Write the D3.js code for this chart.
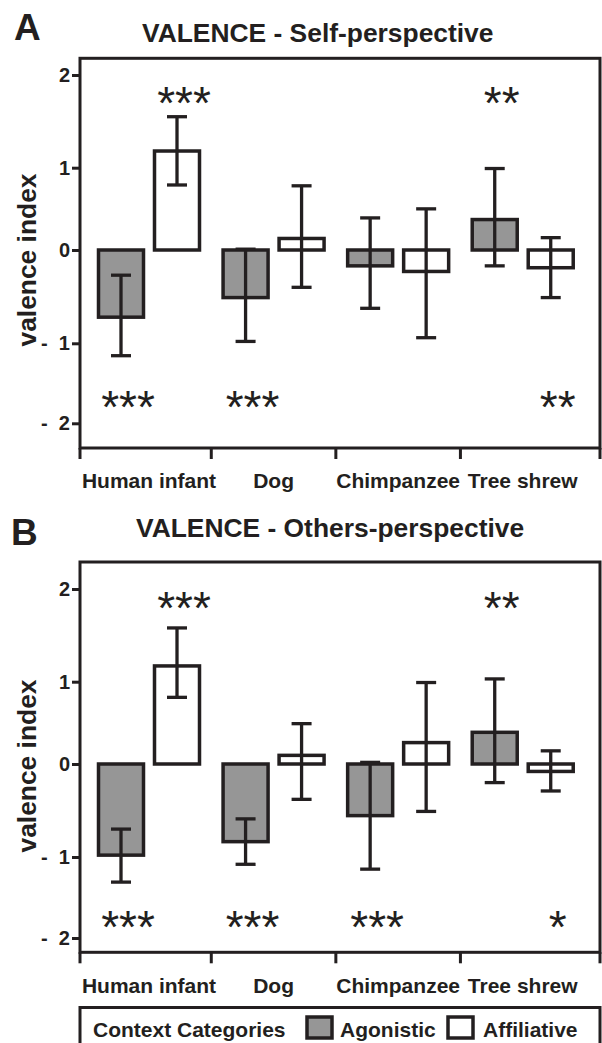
<!DOCTYPE html>
<html lang="en">
<head>
    <meta charset="UTF-8">
    <title>Valence index by species</title>
    <style>
        body { margin: 0; background: #fff; }
        text { font-family: "Liberation Sans", Arial, sans-serif; fill: #231f20; }
        .bold { font-weight: bold; }
    </style>
</head>
<body>
    <svg id="chart" width="602" height="1043"></svg>
    <script src="https://d3js.org/d3.v7.min.js"></script>
    <script>
        // categories and series
        var categories = ["Human infant", "Dog", "Chimpanzee", "Tree shrew"];
        var series = ["Agonistic", "Affiliative"];
        var yTicks = [-2, -1, 0, 1, 2];

        // A - self perspective (means and error bar ends)
        var selfAgonistic     = [-0.72, -0.51, -0.17, 0.37];
        var selfAgonisticHi   = [-0.27, 0.01, 0.39, 0.99];
        var selfAgonisticLo   = [-1.155, -0.98, -0.625, -0.17];
        var selfAffiliative   = [1.18, 0.14, -0.23, -0.19];
        var selfAffiliativeHi = [1.55, 0.78, 0.50, 0.15];
        var selfAffiliativeLo = [0.79, -0.40, -0.94, -0.51];

        // B - others perspective
        var othersAgonistic     = [-0.98, -0.835, -0.555, 0.385];
        var othersAgonisticHi   = [-0.70, -0.59, 0.02, 1.03];
        var othersAgonisticLo   = [-1.31, -1.09, -1.15, -0.20];
        var othersAffiliative   = [1.17, 0.105, 0.26, -0.08];
        var othersAffiliativeHi = [1.58, 0.49, 0.99, 0.16];
        var othersAffiliativeLo = [0.81, -0.38, -0.51, -0.29];

        // significance markers: [category, series, label, row]
        var selfStars = [
            ["Human infant", "Agonistic", "***", "bottom"],
            ["Human infant", "Affiliative", "***", "top"],
            ["Dog", "Agonistic", "***", "bottom"],
            ["Tree shrew", "Agonistic", "**", "top"],
            ["Tree shrew", "Affiliative", "**", "bottom"]
        ];
        var othersStars = [
            ["Human infant", "Agonistic", "***", "bottom"],
            ["Human infant", "Affiliative", "***", "top"],
            ["Dog", "Agonistic", "***", "bottom"],
            ["Chimpanzee", "Agonistic", "***", "bottom"],
            ["Tree shrew", "Agonistic", "**", "top"],
            ["Tree shrew", "Affiliative", "*", "bottom"]
        ];

        var ink = "#231f20", grey = "#969696";
        var svg = d3.select("#chart");

        var frameLeft = 80, frameRight = 600;

        var x0 = d3.scaleBand().domain(categories).range([86.7, 585]);
        var x1 = d3.scaleBand().domain(series).range([6.3, 118.3]);
        var barW = 45;

        function rows(mean, hi, lo, s) {
            return categories.map(function(c, i) {
                return { cat: c, s: s, v: mean[i], hi: hi[i], lo: lo[i] };
            });
        }

        var panels = [
            {
                letter: "A", title: "VALENCE - Self-perspective", titleX: 142, titleY: 42, letterX: 14, letterY: 40,
                top: 58.3, axisY: 448, yRange: [423.3, 343.3, 250, 167.7, 75], labelY: 488,
                yLabelY: 260, starTop: 1.82, starBottom: -1.66,
                data: rows(selfAgonistic, selfAgonisticHi, selfAgonisticLo, "Agonistic")
                    .concat(rows(selfAffiliative, selfAffiliativeHi, selfAffiliativeLo, "Affiliative")),
                stars: selfStars
            },
            {
                letter: "B", title: "VALENCE - Others-perspective", titleX: 136, titleY: 537, letterX: 11, letterY: 545,
                top: 562, axisY: 952.3, yRange: [938, 857, 764, 681.7, 589], labelY: 993,
                yLabelY: 766, starTop: 1.91, starBottom: -1.73,
                data: rows(othersAgonistic, othersAgonisticHi, othersAgonisticLo, "Agonistic")
                    .concat(rows(othersAffiliative, othersAffiliativeHi, othersAffiliativeLo, "Affiliative")),
                stars: othersStars
            }
        ];

        panels.forEach(function(p) {
            var g = svg.append("g");
            var y = d3.scaleLinear().domain(yTicks).range(p.yRange);
            var cx = function(c, s) { return x0(c) + x1(s) + x1.bandwidth() / 2; };

            // letter + title
            g.append("text").attr("class", "bold").attr("x", p.letterX).attr("y", p.letterY)
                .style("font-size", "37px").text(p.letter);
            g.append("text").attr("class", "bold").attr("x", p.titleX).attr("y", p.titleY)
                .style("font-size", "26.4px").text(p.title);

            // frame
            g.append("rect")
                .attr("x", frameLeft).attr("y", p.top)
                .attr("width", frameRight - frameLeft).attr("height", p.axisY - p.top)
                .attr("fill", "none").attr("stroke", ink).attr("stroke-width", 3);

            // category separators below x axis
            var seps = [frameLeft].concat(categories.slice(1).map(function(c) { return x0(c); }), [frameRight]);
            g.selectAll(".sep").data(seps).enter().append("line")
                .attr("x1", function(d) { return d; }).attr("x2", function(d) { return d; })
                .attr("y1", p.axisY).attr("y2", p.axisY + 11)
                .attr("stroke", ink).attr("stroke-width", 3);

            // x labels
            var xAxis = g.append("g")
                .attr("transform", "translate(0," + p.axisY + ")")
                .call(d3.axisBottom(x0).tickSize(0));
            xAxis.select(".domain").remove();
            xAxis.selectAll("text").attr("class", "bold").style("font-size", "21px")
                .attr("fill", ink).attr("dy", 0).attr("y", p.labelY - p.axisY);

            // y axis
            var yAxis = g.append("g")
                .attr("transform", "translate(" + frameLeft + ",0)")
                .call(d3.axisLeft(y).tickValues(yTicks).tickSize(8).tickPadding(2)
                    .tickFormat(function(d) { return d < 0 ? "-  " + Math.abs(d) : d; }));
            yAxis.select(".domain").remove();
            yAxis.selectAll("line").attr("stroke", ink).attr("stroke-width", 3);
            yAxis.selectAll("text").attr("class", "bold").style("font-size", "20px")
                .style("white-space", "pre").attr("fill", ink);

            // y label
            g.append("text").attr("class", "bold")
                .attr("transform", "translate(36," + p.yLabelY + ") rotate(-90)")
                .attr("text-anchor", "middle").style("font-size", "26.4px")
                .text("valence index");

            // bars
            g.selectAll(".bar").data(p.data).enter().append("rect")
                .attr("x", function(d) { return cx(d.cat, d.s) - barW / 2; })
                .attr("y", function(d) { return Math.min(y(d.v), y(0)); })
                .attr("width", barW)
                .attr("height", function(d) { return Math.abs(y(d.v) - y(0)); })
                .attr("fill", function(d) { return d.s === "Agonistic" ? grey : "#fff"; })
                .attr("stroke", ink).attr("stroke-width", 3.5);

            // error bars
            var eb = g.selectAll(".err").data(p.data).enter().append("g")
                .attr("stroke", ink).attr("stroke-width", 3.3);
            eb.append("line")
                .attr("x1", function(d) { return cx(d.cat, d.s); })
                .attr("x2", function(d) { return cx(d.cat, d.s); })
                .attr("y1", function(d) { return y(d.lo); })
                .attr("y2", function(d) { return y(d.hi); });
            ["lo", "hi"].forEach(function(k) {
                eb.append("line")
                    .attr("x1", function(d) { return cx(d.cat, d.s) - 10; })
                    .attr("x2", function(d) { return cx(d.cat, d.s) + 10; })
                    .attr("y1", function(d) { return y(d[k]); })
                    .attr("y2", function(d) { return y(d[k]); });
            });

            // stars
            g.selectAll(".star").data(p.stars).enter().append("text")
                .attr("x", function(d) { return cx(d[0], d[1]) + 7; })
                .attr("y", function(d) { return y(d[3] === "top" ? p.starTop : p.starBottom); })
                .attr("dy", "0.585em")
                .attr("text-anchor", "middle")
                .style("font-size", "46px")
                .text(function(d) { return d[2]; });
        });

        // legend
        var lg = svg.append("g");
        lg.append("rect").attr("x", 80).attr("y", 1007.5).attr("width", 520).attr("height", 60)
            .attr("fill", "none").attr("stroke", ink).attr("stroke-width", 3);
        lg.append("text").attr("class", "bold").attr("x", 93).attr("y", 1037)
            .style("font-size", "21px").text("Context Categories");
        var legendItems = [
            { s: "Agonistic", box: 307, text: 340 },
            { s: "Affiliative", box: 448, text: 483 }
        ];
        legendItems.forEach(function(it) {
            lg.append("rect").attr("x", it.box).attr("y", 1017).attr("width", 25).attr("height", 21)
                .attr("fill", it.s === "Agonistic" ? grey : "#fff")
                .attr("stroke", ink).attr("stroke-width", 3.5);
            lg.append("text").attr("class", "bold").attr("x", it.text).attr("y", 1037)
                .style("font-size", "21px").text(it.s);
        });
    </script>
</body>
</html>
